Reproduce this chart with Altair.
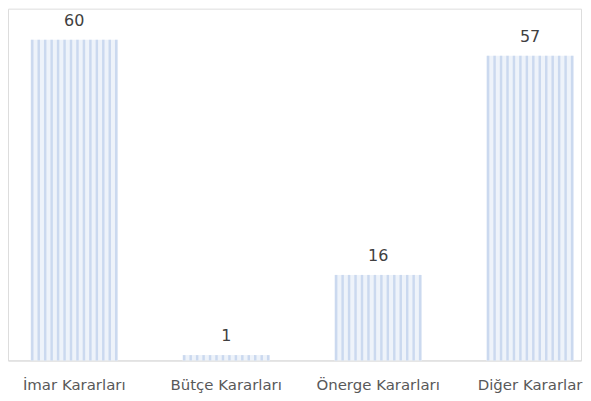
import altair as alt
import pandas as pd

categories = ["İmar Kararları", "Bütçe Kararları", "Önerge Kararları", "Diğer Kararlar"]
values = [60, 1, 16, 57]
stripes = list(range(14))

df = pd.DataFrame({"cat": categories, "val": values})
df_stripes = pd.DataFrame(
    [{"cat": c, "val": v, "s": s} for c, v in zip(categories, values) for s in stripes]
)

x_enc = alt.X(
    "cat:N",
    sort=categories,
    title=None,
    scale=alt.Scale(paddingInner=0.423, paddingOuter=0.097, align=0.76),
    axis=alt.Axis(
        labelAngle=0,
        labelFont="DejaVu Sans",
        labelFontSize=15,
        labelColor="#595959",
        labelPadding=17,
        labelBound=False,
        labelOverlap=False,
        domainColor="#d9d9d9",
        domainWidth=1,
        ticks=False,
    ),
)
y_scale = alt.Scale(domain=[0, 65.8], nice=False)
y_enc = alt.Y("val:Q", scale=y_scale, axis=None)

base = alt.Chart(df).mark_bar(color="#eef3fa").encode(x=x_enc, y=y_enc)

stripe_layer = alt.Chart(df_stripes).mark_bar(color="#cbd9ef").encode(
    x=alt.X("cat:N", sort=categories),
    xOffset=alt.XOffset("s:O", scale=alt.Scale(paddingInner=0.62, paddingOuter=0.1)),
    y=alt.Y("val:Q", scale=y_scale),
)

labels = alt.Chart(df).mark_text(
    font="DejaVu Sans", fontSize=16, color="#404040", baseline="alphabetic", dy=-14
).encode(x=alt.X("cat:N", sort=categories), y=alt.Y("val:Q", scale=y_scale), text="val:Q")

chart = (
    alt.layer(base, stripe_layer, labels)
    .properties(width=575, height=353)
    .configure_view(stroke=None)
    .configure(padding={"left": 0, "top": 0, "right": 0, "bottom": 3})
)

chart.save("out.html", embed_options={"renderer": "svg", "actions": False})
